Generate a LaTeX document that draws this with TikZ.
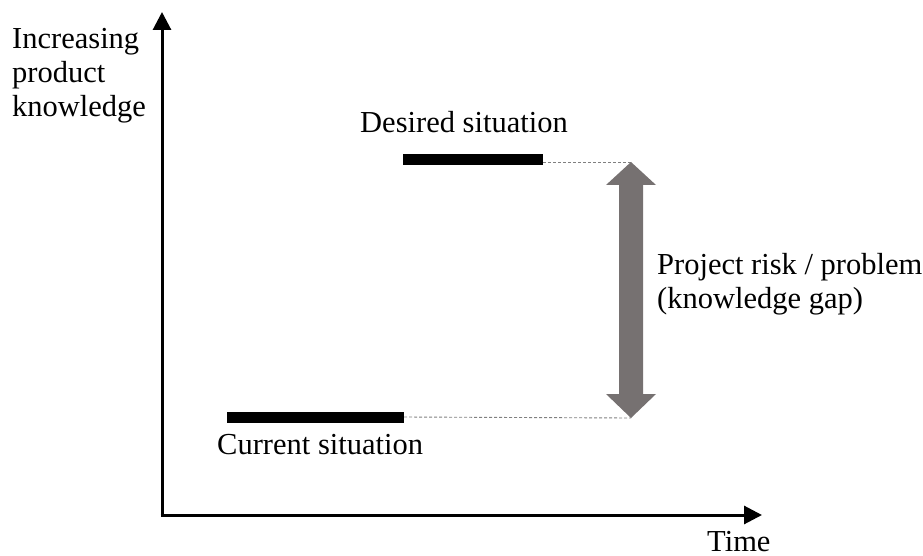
\documentclass[tikz,border=0pt]{standalone}
\usepackage{fontspec}
\setmainfont{Liberation Serif}
\usetikzlibrary{arrows.meta}
\definecolor{gapgray}{HTML}{767171}
\begin{document}
\begin{tikzpicture}[x=1pt,y=-1pt,
  lbl/.style={font=\fontsize{30.5}{34}\selectfont, inner sep=0pt},
  axis/.style={line width=3pt, -{Triangle[length=18pt,width=18pt]}},
  levelbar/.style={line width=11pt},
  guide/.style={gray, line width=0.9pt, dash pattern=on 3pt off 2pt}]
\useasboundingbox (0,0) rectangle (923,556);
% axes
\coordinate (origin) at (162,515);
\coordinate (ytop) at (162,12);
\coordinate (xend) at (762,515);
\draw[axis] ([yshift=1.5pt]origin) -- (ytop);
\draw[axis] ([xshift=-1.5pt]origin) -- (xend);
% knowledge levels
\coordinate (d1) at (403,160);
\coordinate (d2) at (543,160);
\coordinate (c1) at (227,417);
\coordinate (c2) at (404,417);
\draw[levelbar] (d1) -- (d2);
\draw[levelbar] (c1) -- (c2);
% gap arrow
\coordinate (gtop) at (631,162);
\coordinate (gbot) at (631,418);
\draw[guide] (d2) ++(0,2) -- (gtop);
\draw[guide] (c2) -- (gbot);
\fill[gapgray] (gtop) -- (656,185) -- (643,185) -- (643,394) -- (656,394)
  -- (gbot) -- (606,394) -- (619,394) -- (619,185) -- (606,185) -- cycle;
% labels
\node[lbl, anchor=base west] (ylab) at (12,49) {\begin{tabular}[t]{@{}l@{}}Increasing\\product\\knowledge\end{tabular}};
\node[lbl, anchor=base west] (desired) at (360,133) {Desired situation};
\node[lbl, anchor=base west] (current) at (217,454) {Current situation};
\node[lbl, anchor=base west] (gap) at (657,274) {\begin{tabular}[t]{@{}l@{}}Project risk / problem\\(knowledge gap)\end{tabular}};
\node[lbl, anchor=base west] (time) at (707,551) {Time};
\end{tikzpicture}
\end{document}
